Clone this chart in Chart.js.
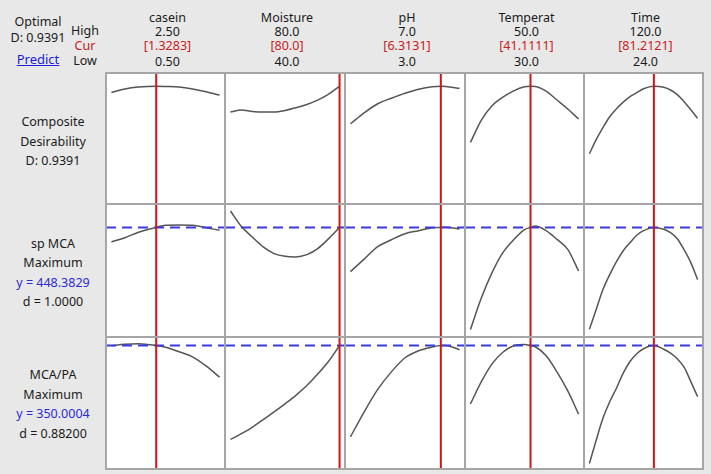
<!DOCTYPE html>
<html lang="en">
<head>
    <meta charset="UTF-8">
    <title>Response Optimizer</title>
    <script src="https://cdn.jsdelivr.net/npm/chart.js"></script>
    <style>
        html, body { margin: 0; padding: 0; }
        body {
            width: 711px; height: 474px; position: relative; overflow: hidden;
            background: #e8e8e8;
            font-family: "Noto Sans", "Open Sans", sans-serif; font-size: 12.5px; color: #1a1a1a;
        }
        .t { position: absolute; line-height: 16px; white-space: nowrap; text-align: center; }
        .red { color: #c82020; }
        .blue { color: #2a2ad6; }
        .cell { position: absolute; background: #fff; }
        .line { position: absolute; background: #a6a6a6; }
    </style>
</head>
<body>
<div id="root"></div>
<script>
    // factor settings (header)
    const factors = ['casein', 'Moisture', 'pH', 'Temperat', 'Time'];
    const highs = [2.5, 80, 7, 50, 120];
    const curs = [1.3283, 80.0, 6.3131, 41.1111, 81.2121];
    const lows = [0.5, 40, 3, 30, 24];
    const highLabels = ['2.50', '80.0', '7.0', '50.0', '120.0'];
    const curLabels = ['[1.3283]', '[80.0]', '[6.3131]', '[41.1111]', '[81.2121]'];
    const lowLabels = ['0.50', '40.0', '3.0', '30.0', '24.0'];

    // x grids for each factor
    const xCasein = [0.5, 0.75, 1.0, 1.3283, 1.5, 1.75, 2.0, 2.25, 2.5];
    const xMoisture = [40, 44, 48, 52, 56, 60, 64, 68, 72, 76, 80];
    const xPH = [3, 3.5, 4, 4.5, 5, 5.5, 6, 6.3131, 6.5, 7];
    const xTemp = [30, 32, 34, 36, 38, 40, 41.1111, 42, 44, 46, 48, 50];
    const xTime = [24, 30, 36, 42, 48, 54, 60, 66, 72, 81.2121, 90, 96, 102, 108, 114, 120];

    // composite desirability
    const dCasein = [0.887, 0.916, 0.932, 0.9391, 0.937, 0.932, 0.916, 0.893, 0.865];
    const dMoisture = [0.722, 0.739, 0.727, 0.722, 0.722, 0.735, 0.759, 0.786, 0.822, 0.872, 0.9391];
    const dPH = [0.624, 0.715, 0.792, 0.838, 0.880, 0.914, 0.935, 0.9391, 0.937, 0.921];
    const dTemp = [0.467, 0.652, 0.775, 0.847, 0.900, 0.934, 0.9391, 0.937, 0.897, 0.823, 0.748, 0.664];
    const dTime = [0.372, 0.490, 0.591, 0.683, 0.750, 0.805, 0.851, 0.885, 0.918, 0.9391, 0.930, 0.907, 0.868, 0.809, 0.742, 0.669];

    // sp MCA
    const sCasein = [422.0, 429.7, 439.7, 448.38, 452.4, 452.9, 452.4, 447.8, 443.3];
    const sMoisture = [478, 450, 431, 413, 401, 396, 395, 399, 410, 428, 448.38];
    const sPH = [368.3, 390.9, 413.5, 426, 437, 442.4, 447.8, 448.38, 448.6, 445.5];
    const sTemp = [263.5, 320, 366.4, 402.6, 426, 444.2, 448.38, 450.9, 442.4, 426.7, 408.6, 369.5];
    const sTime = [264, 299.9, 336, 363, 386.5, 406.2, 420.7, 434.2, 442.4, 448.38, 445.1, 438.8, 427.9, 408, 384.5, 353.8];

    // MCA/PA
    const mCasein = [349.5, 353, 354.2, 350.0, 345.9, 335.3, 323.5, 302, 275.6];
    const mMoisture = [129.4, 143, 158, 176, 194, 213, 233, 256, 283, 313, 350.0];
    const mPH = [135.5, 193.8, 246.9, 288.1, 321.2, 337.7, 346.4, 350.0, 350.2, 340];
    const mTemp = [212.7, 264.5, 307, 334.1, 349.5, 352.5, 350.0, 347.1, 325.9, 288.1, 243.3, 189];
    const mTime = [72.8, 127.7, 178.9, 218, 249.7, 285, 312.4, 330.6, 342.4, 350.0, 341.2, 332.3, 318.8, 299.2, 265.3, 229.9];

    const xGrids = [xCasein, xMoisture, xPH, xTemp, xTime];
    const rowValues = [
        [dCasein, dMoisture, dPH, dTemp, dTime],
        [sCasein, sMoisture, sPH, sTemp, sTime],
        [mCasein, mMoisture, mPH, mTemp, mTime]
    ];
    const targets = [null, 448.3829, 350.0004];
    const yRanges = [[-0.05, 1.05], [250, 490.7], [60, 370]];

    // layout
    const colEdges = [106, 225, 345, 465, 584, 703];
    const rowEdges = [73, 204, 337, 469];
    const root = document.getElementById('root');

    function addText(txt, cx, cy, cls, w) {
        const d = document.createElement('div');
        d.className = 't' + (cls ? ' ' + cls : '');
        d.textContent = txt;
        w = w || 120;
        d.style.left = (cx - w / 2) + 'px';
        d.style.width = w + 'px';
        d.style.top = (cy - 8) + 'px';
        root.appendChild(d);
        return d;
    }

    // top-left block
    addText('Optimal', 38, 22);
    addText('D: 0.9391', 38, 38);
    const p = addText('Predict', 38, 59, 'blue');
    p.style.textDecoration = 'underline';
    p.style.color = '#2020d8';
    p.style.fontSize = '13px';
    addText('High', 85, 31, '', 40);
    addText('Cur', 85, 46, 'red', 40);
    addText('Low', 85, 61, '', 40);

    // column headers
    factors.forEach((f, i) => {
        const cx = (colEdges[i] + colEdges[i + 1]) / 2 + 2;
        addText(f, cx, 18);
        addText(highLabels[i], cx, 32);
        addText(curLabels[i], cx, 46, 'red');
        addText(lowLabels[i], cx, 62);
    });

    // row labels
    [['Composite', ''], ['Desirability', ''], ['D: 0.9391', '']].forEach((r, k) => addText(r[0], 53, 122 + k * 19.5, r[1]));
    [['sp MCA', ''], ['Maximum', ''], ['y = 448.3829', 'blue'], ['d = 1.0000', '']].forEach((r, k) => addText(r[0], 53, 243.5 + k * 19.5, r[1]));
    [['MCA/PA', ''], ['Maximum', ''], ['y = 350.0004', 'blue'], ['d = 0.88200', '']].forEach((r, k) => addText(r[0], 53, 375 + k * 19.5, r[1]));

    // white grid background
    const bg = document.createElement('div');
    bg.className = 'cell';
    bg.style.left = colEdges[0] + 'px';
    bg.style.top = rowEdges[0] + 'px';
    bg.style.width = (colEdges[5] - colEdges[0]) + 'px';
    bg.style.height = (rowEdges[3] - rowEdges[0]) + 'px';
    root.appendChild(bg);

    // one chart per cell
    for (let r = 0; r < 3; r++) {
        for (let c = 0; c < 5; c++) {
            const w = colEdges[c + 1] - colEdges[c];
            const h = rowEdges[r + 1] - rowEdges[r];
            const cv = document.createElement('canvas');
            cv.width = w; cv.height = h;
            cv.style.position = 'absolute';
            cv.style.left = colEdges[c] + 'px';
            cv.style.top = rowEdges[r] + 'px';
            root.appendChild(cv);

            const pad = (highs[c] - lows[c]) * 0.05;
            const xMin = lows[c] - pad, xMax = highs[c] + pad;
            const yMin = yRanges[r][0], yMax = yRanges[r][1];

            const datasets = [{
                data: xGrids[c].map((x, k) => ({ x: x, y: rowValues[r][c][k] })),
                borderColor: '#555555', borderWidth: 1.5,
                cubicInterpolationMode: 'monotone', order: 3
            }, {
                data: [{ x: curs[c], y: yMin }, { x: curs[c], y: yMax }],
                borderColor: '#d01515', borderWidth: 2, order: 1
            }];
            if (targets[r] !== null) {
                datasets.push({
                    data: [{ x: xMin, y: targets[r] }, { x: xMax, y: targets[r] }],
                    borderColor: '#3b3be0', borderWidth: 2, borderDash: [10, 6], order: 2
                });
            }

            new Chart(cv, {
                type: 'line',
                data: { datasets: datasets },
                options: {
                    responsive: false,
                    animation: false,
                    events: [],
                    layout: { padding: 0 },
                    elements: { point: { radius: 0 } },
                    plugins: { legend: { display: false }, tooltip: { enabled: false } },
                    scales: {
                        x: { type: 'linear', display: false, min: xMin, max: xMax },
                        y: { display: false, min: yMin, max: yMax }
                    }
                }
            });
        }
    }

    // grid lines on top
    function addLine(x, y, w, h) {
        const d = document.createElement('div');
        d.className = 'line';
        d.style.left = x + 'px'; d.style.top = y + 'px';
        d.style.width = w + 'px'; d.style.height = h + 'px';
        root.appendChild(d);
    }
    colEdges.forEach(x => addLine(x - 1, rowEdges[0] - 1, 2, rowEdges[3] - rowEdges[0] + 2));
    rowEdges.forEach(y => addLine(colEdges[0] - 1, y - 1, colEdges[5] - colEdges[0] + 2, 2));
</script>
</body>
</html>
